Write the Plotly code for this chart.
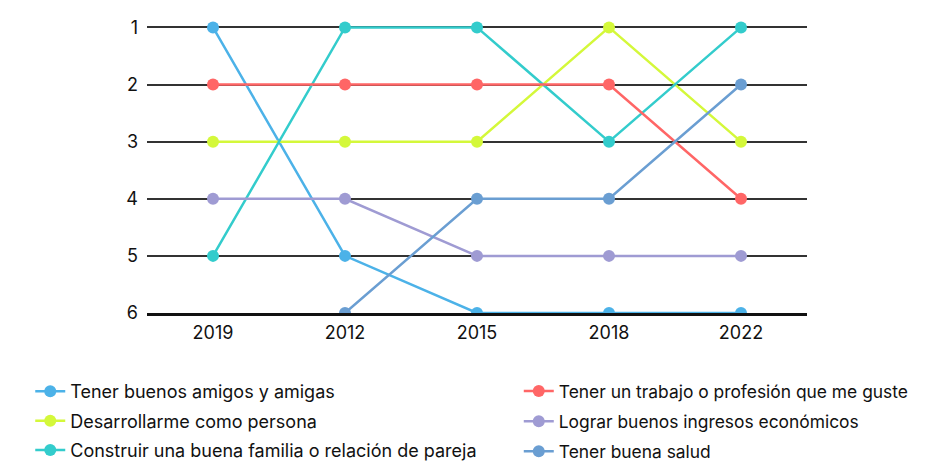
import plotly.graph_objects as go

years = ["2019", "2012", "2015", "2018", "2022"]

amigos = [1, 5, 6, 6, 6]
trabajo = [2, 2, 2, 2, 4]
desarrollo = [3, 3, 3, 1, 3]
ingresos = [4, 4, 5, 5, 5]
familia = [5, 1, 1, 3, 1]
salud = [None, 6, 4, 4, 2]

# (name, values, colour, legend column)
series = [
    ("Tener buenos amigos y amigas", amigos, "#4cb2e8", "legend"),
    ("Desarrollarme como persona", desarrollo, "#d4f83a", "legend"),
    ("Construir una buena familia o relación de pareja", familia, "#33cccc", "legend"),
    ("Tener un trabajo o profesión que me guste", trabajo, "#ff6666", "legend2"),
    ("Lograr buenos ingresos económicos", ingresos, "#9f9bd3", "legend2"),
    ("Tener buena salud", salud, "#6a9ed2", "legend2"),
]

fig = go.Figure()
for name, vals, color, leg in series:
    fig.add_trace(go.Scatter(
        x=years, y=vals, name=name, mode="lines+markers",
        line=dict(color=color, width=2.5),
        marker=dict(color=color, size=12),
        legend=leg, legendgroup=name,
    ))

legend_style = dict(
    orientation="v", xref="container", yref="container",
    yanchor="top", xanchor="left", y=0.208,
    bgcolor="rgba(0,0,0,0)",
)

fig.update_layout(
    width=927, height=461,
    margin=dict(l=139, r=128, t=8, b=156, autoexpand=False),
    plot_bgcolor="white", paper_bgcolor="white",
    font=dict(family="Inter", size=18, color="#111111"),
    xaxis=dict(
        type="category", range=[-0.5, 4.5], showgrid=False,
        showline=True, linecolor="#111111", linewidth=2.5,
        ticks="", tickfont=dict(size=18), ticklabelstandoff=2,
        automargin=False,
    ),
    yaxis=dict(
        range=[6, 0.8], tickvals=[1, 2, 3, 4, 5, 6],
        showgrid=True, gridcolor="#333333", gridwidth=1.5,
        zeroline=False, ticks="", tickfont=dict(size=18), ticklabelstandoff=8,
        automargin=False,
    ),
    legend=dict(x=0.024, font=dict(size=18), tracegroupgap=3, **legend_style),
    legend2=dict(x=0.551, font=dict(size=17.4), tracegroupgap=4.6, **legend_style),
)

fig.write_html("out.html")
